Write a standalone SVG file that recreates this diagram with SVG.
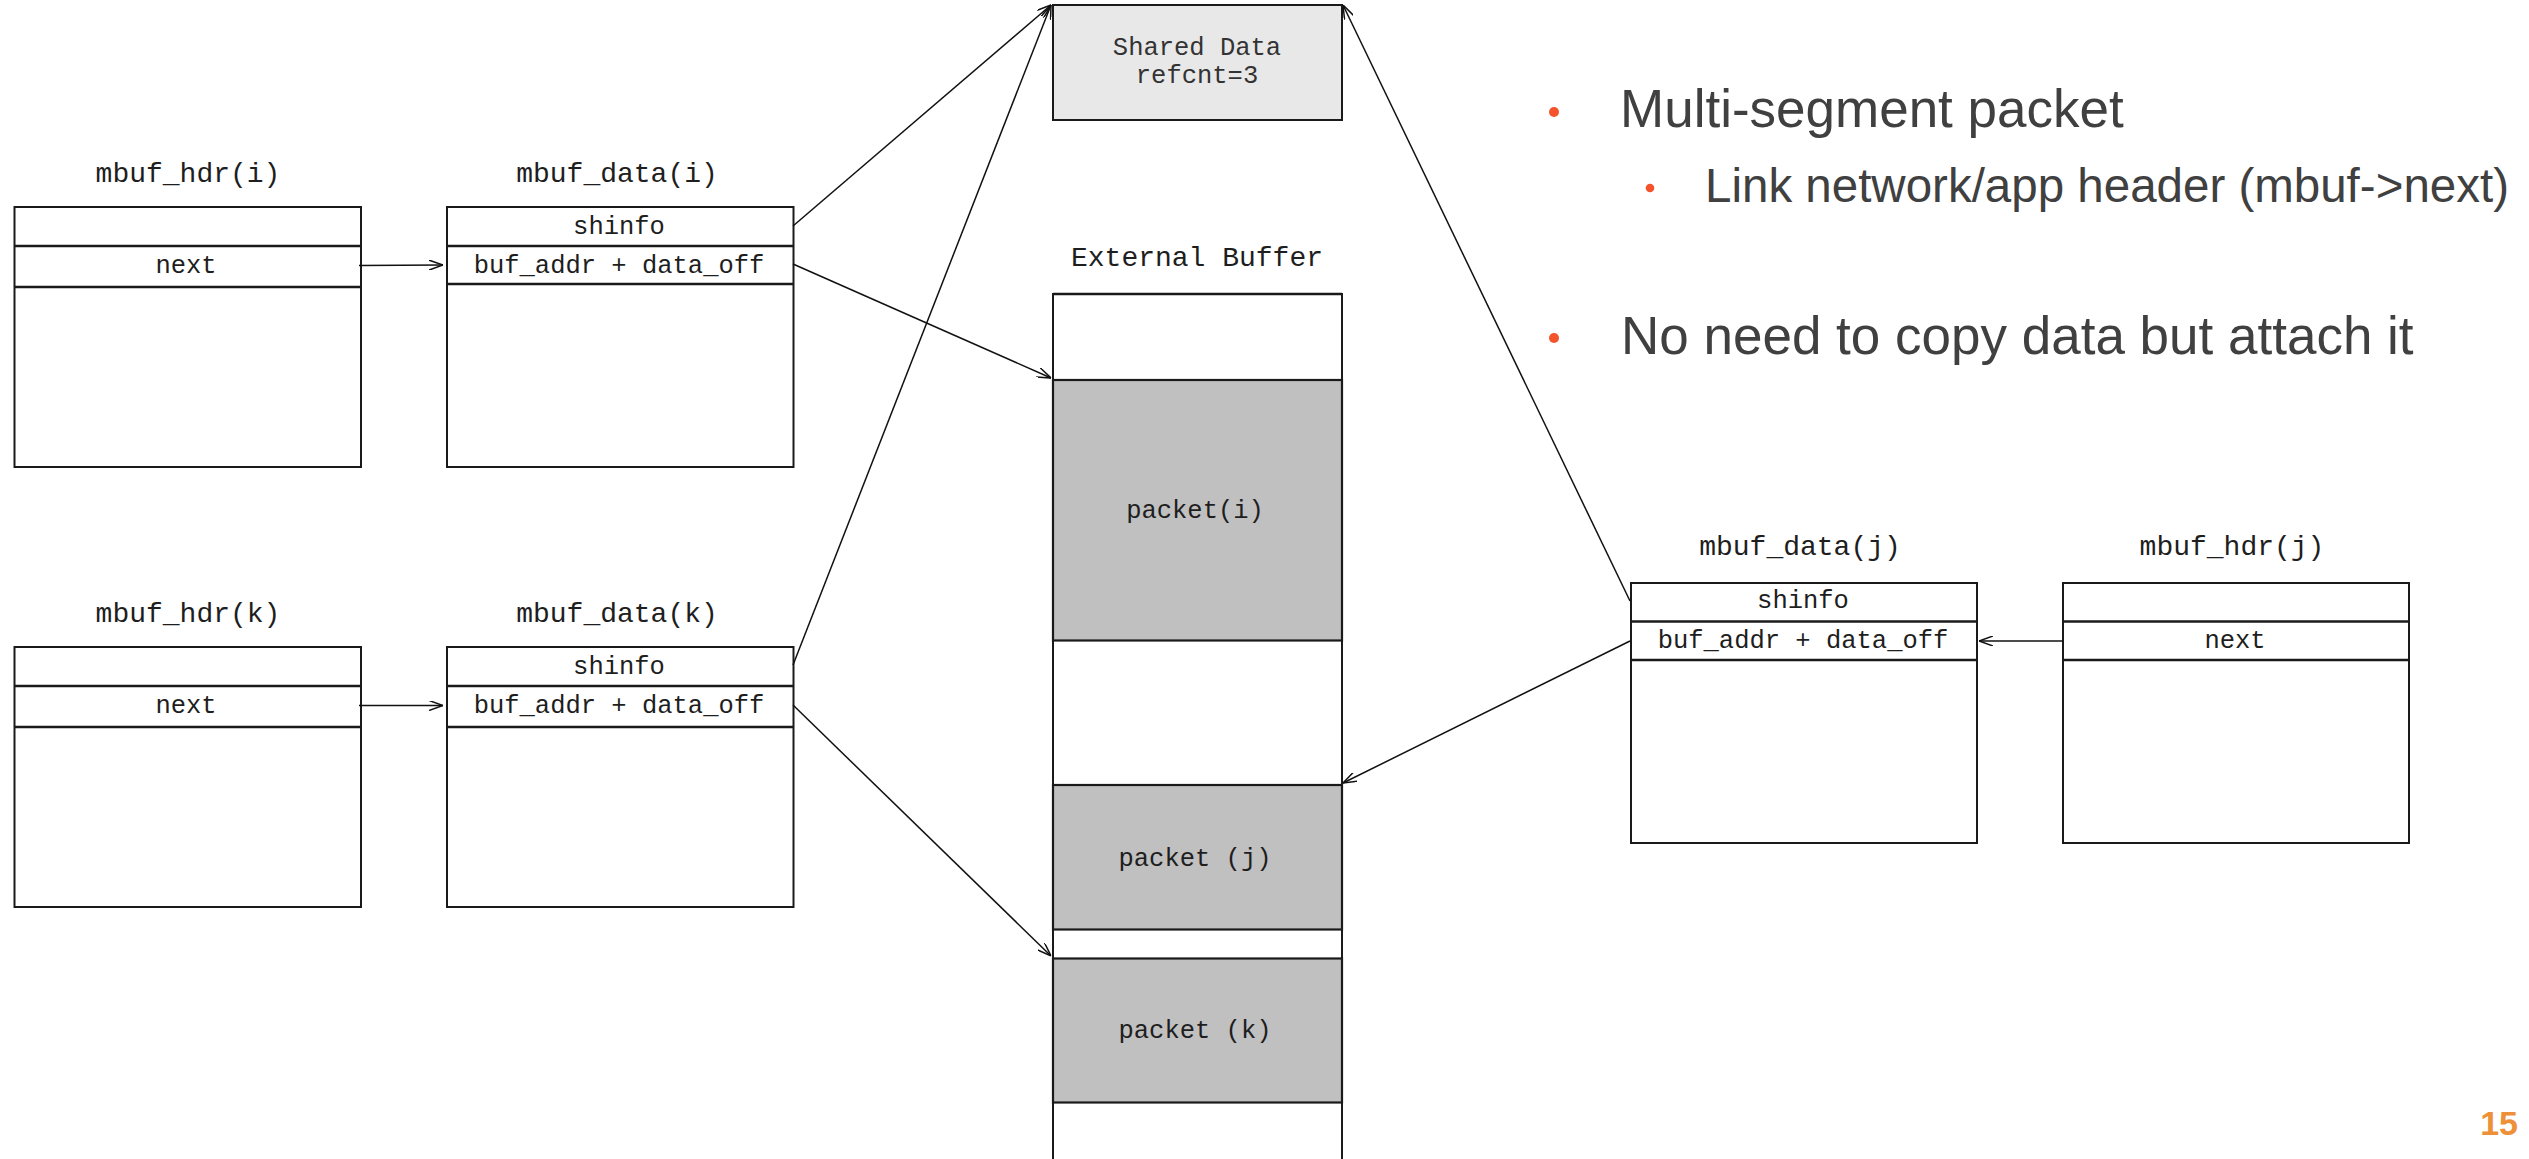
<svg xmlns="http://www.w3.org/2000/svg" width="2529" height="1159" viewBox="0 0 2529 1159">
  <style>
    .box { fill: #ffffff; stroke: #1a1a1a; stroke-width: 2; }
    .div { stroke: #1a1a1a; stroke-width: 2.4; }
    .pkt { fill: #c0c0c0; stroke: #1a1a1a; stroke-width: 2.2; }
    .shared { fill: #e8e8e8; stroke: #1a1a1a; stroke-width: 2; }
    .mono { font-family: "Liberation Mono", "Courier New", monospace; fill: #1e1e1e; text-anchor: middle; }
    .lbl { font-size: 28px; }
    .fld { font-size: 25.5px; }
    .link { fill: none; stroke: #111111; stroke-width: 1.5; marker-end: url(#open); }
    .bul { font-family: "Liberation Sans", Arial, sans-serif; fill: #404040; }
    .dot { fill: #f4532b; }
  </style>
  <defs>
    <marker id="open" viewBox="0 0 14 10" refX="14" refY="5" markerWidth="14" markerHeight="10" markerUnits="userSpaceOnUse" orient="auto">
      <path d="M0,0 L14,5 L0,10" fill="none" stroke="#111111" stroke-width="1.5"/>
    </marker>
  </defs>

  <!-- mbuf_hdr(i) -->
  <g id="mbuf_hdr_i">
    <text class="mono lbl" x="188" y="182">mbuf_hdr(i)</text>
    <rect class="box" x="14.5" y="207" width="346.5" height="260"/>
    <line class="div" x1="14.5" y1="246" x2="361" y2="246"/>
    <line class="div" x1="14.5" y1="287" x2="361" y2="287"/>
    <text class="mono fld" x="186" y="273">next</text>
  </g>

  <!-- mbuf_data(i) -->
  <g id="mbuf_data_i">
    <text class="mono lbl" x="617" y="182">mbuf_data(i)</text>
    <rect class="box" x="447" y="207" width="346.5" height="260"/>
    <line class="div" x1="447" y1="246" x2="793.5" y2="246"/>
    <line class="div" x1="447" y1="284" x2="793.5" y2="284"/>
    <text class="mono fld" x="619" y="234">shinfo</text>
    <text class="mono fld" x="619" y="273">buf_addr + data_off</text>
  </g>

  <!-- mbuf_hdr(k) -->
  <g id="mbuf_hdr_k">
    <text class="mono lbl" x="188" y="622">mbuf_hdr(k)</text>
    <rect class="box" x="14.5" y="647" width="346.5" height="260"/>
    <line class="div" x1="14.5" y1="686" x2="361" y2="686"/>
    <line class="div" x1="14.5" y1="727" x2="361" y2="727"/>
    <text class="mono fld" x="186" y="713">next</text>
  </g>

  <!-- mbuf_data(k) -->
  <g id="mbuf_data_k">
    <text class="mono lbl" x="617" y="622">mbuf_data(k)</text>
    <rect class="box" x="447" y="647" width="346.5" height="260"/>
    <line class="div" x1="447" y1="686" x2="793.5" y2="686"/>
    <line class="div" x1="447" y1="727" x2="793.5" y2="727"/>
    <text class="mono fld" x="619" y="674">shinfo</text>
    <text class="mono fld" x="619" y="713">buf_addr + data_off</text>
  </g>

  <!-- Shared Data -->
  <g id="shared_data">
    <rect class="shared" x="1053" y="5" width="289" height="115"/>
    <text class="mono fld" x="1197" y="55" style="fill:#333333">Shared Data</text>
    <text class="mono fld" x="1197" y="83" style="fill:#333333">refcnt=3</text>
  </g>

  <!-- External Buffer -->
  <g id="external_buffer">
    <text class="mono lbl" x="1197" y="266">External Buffer</text>
    <path class="box" d="M1053,1165 L1053,294 L1342,294 L1342,1165"/>
    <line class="div" x1="1053" y1="294" x2="1342" y2="294"/>
  </g>
  <g id="packet_i">
    <rect class="pkt" x="1053" y="380" width="289" height="260.5"/>
    <text class="mono fld" x="1195" y="518">packet(i)</text>
  </g>
  <g id="packet_j">
    <rect class="pkt" x="1053" y="785" width="289" height="144.5"/>
    <text class="mono fld" x="1195" y="866">packet (j)</text>
  </g>
  <g id="packet_k">
    <rect class="pkt" x="1053" y="958.5" width="289" height="144"/>
    <text class="mono fld" x="1195" y="1038">packet (k)</text>
  </g>

  <!-- mbuf_data(j) -->
  <g id="mbuf_data_j">
    <text class="mono lbl" x="1800" y="555">mbuf_data(j)</text>
    <rect class="box" x="1631" y="583" width="346" height="260"/>
    <line class="div" x1="1631" y1="621.5" x2="1977" y2="621.5"/>
    <line class="div" x1="1631" y1="660" x2="1977" y2="660"/>
    <text class="mono fld" x="1803" y="608">shinfo</text>
    <text class="mono fld" x="1803" y="648">buf_addr + data_off</text>
  </g>

  <!-- mbuf_hdr(j) -->
  <g id="mbuf_hdr_j">
    <text class="mono lbl" x="2232" y="555">mbuf_hdr(j)</text>
    <rect class="box" x="2063" y="583" width="346" height="260"/>
    <line class="div" x1="2063" y1="621.5" x2="2409" y2="621.5"/>
    <line class="div" x1="2063" y1="660" x2="2409" y2="660"/>
    <text class="mono fld" x="2235" y="648">next</text>
  </g>

  <!-- pointers between segments, shared info and buffer -->
  <g id="connectors">
    <line class="link" x1="359" y1="265.5" x2="443" y2="265"/>
    <line class="link" x1="359" y1="705.5" x2="443" y2="705.5"/>
    <line class="link" x1="793" y1="226" x2="1051" y2="5"/>
    <line class="link" x1="793" y1="264" x2="1051" y2="378"/>
    <line class="link" x1="793" y1="665" x2="1051" y2="5"/>
    <line class="link" x1="793" y1="705" x2="1051" y2="956"/>
    <line class="link" x1="1630" y1="601" x2="1343" y2="5"/>
    <line class="link" x1="1630" y1="641" x2="1343" y2="783"/>
    <line class="link" x1="2063" y1="641" x2="1979" y2="641"/>
  </g>

  <!-- bullet text -->
  <g id="notes">
    <circle class="dot" cx="1554" cy="112" r="5"/>
    <text class="bul" x="1620" y="127" font-size="53">Multi-segment packet</text>
    <circle class="dot" cx="1650" cy="188" r="4.3"/>
    <text class="bul" x="1705" y="202" font-size="47.5">Link network/app header (mbuf-&gt;next)</text>
    <circle class="dot" cx="1554" cy="338" r="5"/>
    <text class="bul" x="1621" y="354" font-size="53">No need to copy data but attach it</text>
  </g>

  <text x="2518" y="1135" text-anchor="end" font-family="Liberation Sans, Arial, sans-serif" font-weight="bold" font-size="34" fill="#ee9038">15</text>
</svg>
